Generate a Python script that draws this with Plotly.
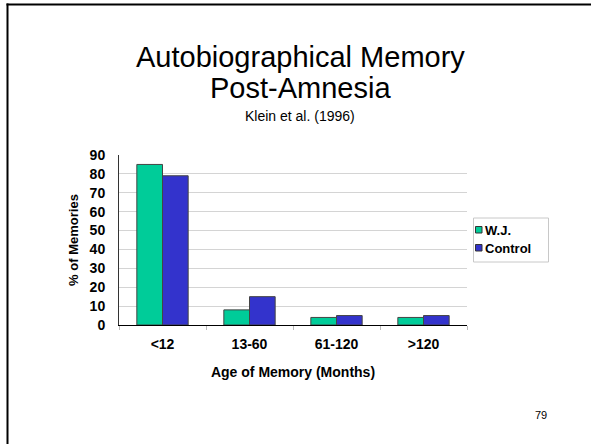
import plotly.graph_objects as go

categories = ["<12", "13-60", "61-120", ">120"]
wj_values = [85, 8, 4, 4]
control_values = [79, 15, 5, 5]
y_ticks = [0, 10, 20, 30, 40, 50, 60, 70, 80, 90]
series_names = ["W.J.", "Control"]
series_colors = ["#00CC99", "#3333CC"]

W, H = 591, 444
L, R, T, B = 119, 124, 155, 119
pw, ph = W - L - R, H - T - B

def px(x):
    return (x - L) / pw

def py(y):
    return (H - B - y) / ph

fig = go.Figure()
for name, vals, col in zip(series_names, [wj_values, control_values], series_colors):
    fig.add_bar(x=categories, y=vals, name=name, showlegend=False,
                marker=dict(color=col, line=dict(color="#444444", width=1)))

font_family = "Liberation Sans, Arial, sans-serif"

shapes = [
    # slide frame (top and left edges visible)
    dict(type="line", xref="paper", yref="paper", x0=px(6.5), x1=px(591), y0=py(4.5), y1=py(4.5),
         line=dict(color="black", width=2), layer="above"),
    dict(type="line", xref="paper", yref="paper", x0=px(7.5), x1=px(7.5), y0=py(3.5), y1=py(444),
         line=dict(color="black", width=2), layer="above"),
    # legend box
    dict(type="rect", xref="paper", yref="paper", x0=px(473.5), x1=px(548.5), y0=py(218), y1=py(262),
         line=dict(color="#c8c8c8", width=1), fillcolor="white", layer="above"),
]
annotations = [
    dict(text="Autobiographical Memory", xref="paper", yref="paper",
         x=px(300), y=py(57), xanchor="center", yanchor="middle", showarrow=False,
         font=dict(size=29, color="black")),
    dict(text="Post-Amnesia", xref="paper", yref="paper",
         x=px(300), y=py(88), xanchor="center", yanchor="middle", showarrow=False,
         font=dict(size=29, color="black")),
    dict(text="Klein et al. (1996)", xref="paper", yref="paper",
         x=px(300), y=py(116), xanchor="center", yanchor="middle", showarrow=False,
         font=dict(size=14, color="black")),
    dict(text="79", xref="paper", yref="paper",
         x=px(541), y=py(415), xanchor="center", yanchor="middle", showarrow=False,
         font=dict(size=11, color="black")),
]
legend_y = [230, 248]
for name, col, ly in zip(series_names, series_colors, legend_y):
    shapes.append(dict(type="rect", xref="paper", yref="paper",
                       x0=px(475.5), x1=px(482), y0=py(ly - 3.5), y1=py(ly + 3),
                       line=dict(color="#333333", width=1), fillcolor=col, layer="above"))
    annotations.append(dict(text=name, xref="paper", yref="paper",
                            x=px(483.5), y=py(ly), xanchor="left", yanchor="middle", showarrow=False,
                            font=dict(size=13, weight="bold", color="black")))

fig.update_layout(
    width=W, height=H,
    margin=dict(l=L, r=R, t=T, b=B, autoexpand=False),
    paper_bgcolor="white", plot_bgcolor="white",
    barmode="group", bargap=0.41, bargroupgap=0,
    font=dict(family=font_family, color="black"),
    showlegend=False,
    xaxis=dict(showline=True, linecolor="black", linewidth=1,
               ticks="outside", tickson="boundaries", ticklen=4, tickcolor="#bbbbbb",
               tickfont=dict(size=14, weight="bold", color="black"), ticklabelstandoff=6,
               title=dict(text="Age of Memory (Months)", font=dict(size=14, weight="bold", color="black"), standoff=16),
               showgrid=False),
    yaxis=dict(range=[0, 90], tickvals=y_ticks, showline=True, linecolor="#333333", linewidth=1,
               ticks="", tickfont=dict(size=14, weight="bold", color="black"), ticklabelstandoff=10,
               gridcolor="#d4d4d4", gridwidth=1,
               title=dict(text="% of Memories", font=dict(size=13, weight="bold", color="black"), standoff=8),
               zeroline=False),
    shapes=shapes,
    annotations=annotations,
)

fig.write_html("out.html", config={"displayModeBar": False},
               post_script="document.body.style.margin='0';document.body.style.overflow='hidden';")
